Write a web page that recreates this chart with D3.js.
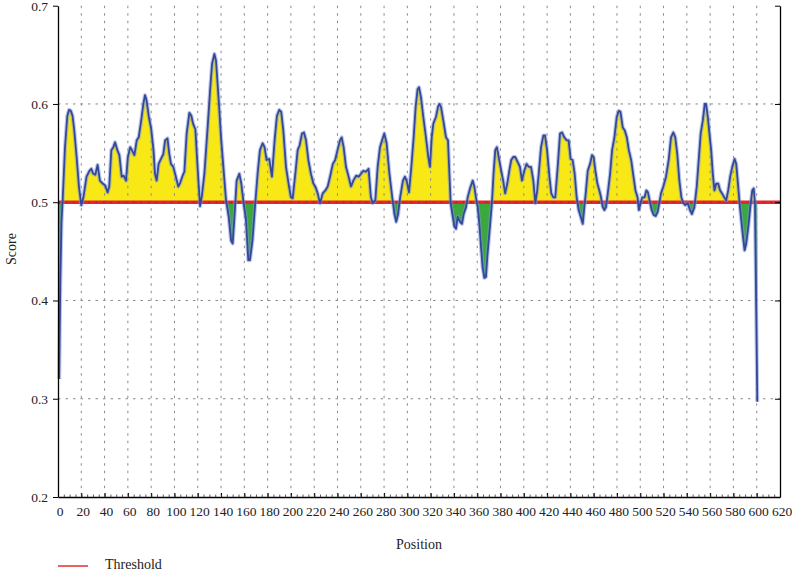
<!DOCTYPE html>
<html>
<head>
<meta charset="utf-8">
<script src="https://cdn.jsdelivr.net/npm/d3@7"></script>
<style>
  body { margin: 0; background: #fff; }
  svg { display: block; font-family: "Liberation Serif", "DejaVu Serif", serif; }
</style>
</head>
<body>
<div id="chart"></div>
<script>
// profile: position along sequence and score
var positions = [1, 2, 3, 4, 6, 8, 9.5, 11, 12.5, 14, 16, 18, 20, 21.8, 24.5, 27, 28.6, 30.3, 32, 34, 36, 38.4, 40.6, 42.6, 44, 45.8, 47.5, 49, 51, 52.7, 54.7, 56.4, 58.4, 60, 62, 63.5, 65.6, 67.6, 69.3, 71.3, 73.3, 74.7, 76, 78, 80, 82, 83.3, 84.7, 86.4, 88.4, 90.4, 92, 94, 95.6, 97, 99, 101, 103.3, 105, 107, 108.5, 110.5, 112.8, 114.5, 116, 118, 120, 122, 123.6, 125.7, 128.6, 130.6, 132.3, 134.3, 135.7, 138, 140, 142, 144.3, 146.6, 148.6, 150, 151.7, 153.4, 155.7, 157.4, 159.4, 161.4, 163.4, 164.8, 167, 169.4, 171.4, 173.4, 175.7, 177.4, 179.1, 181.4, 183.7, 186, 188, 190, 191.7, 193.5, 195.8, 198, 200, 201.5, 203.8, 205.8, 207.5, 209.5, 211.2, 213, 215, 217.2, 219.3, 221, 223, 225, 227.3, 229.6, 231.6, 233.6, 236, 238, 240, 242.2, 243.6, 245.3, 247.3, 249.6, 251.6, 253.6, 256, 258.2, 260.2, 262.2, 264.4, 266.7, 268.7, 270.2, 272.5, 274.5, 276.5, 278.3, 280.2, 282.2, 284.6, 286.6, 288.9, 290.4, 292.1, 293.8, 296.2, 297.9, 299.6, 301.4, 303.4, 305.4, 307.1, 308.8, 310, 311.7, 313.7, 316, 318, 319.4, 320.9, 322.3, 324.6, 326.3, 327.5, 328.9, 330.9, 333.2, 334.9, 336.1, 337.2, 339, 340.4, 341.8, 343.2, 345.2, 346.9, 348.4, 350.4, 351.8, 353.8, 356.1, 357.5, 358.9, 360.4, 361.8, 363.2, 364.6, 366.1, 367.5, 368.9, 370.9, 372.6, 374, 375.5, 376.9, 378.9, 380.6, 382.3, 384, 385.8, 387.5, 389.2, 390.9, 392.7, 394.7, 396.7, 398.4, 400.4, 402.4, 404.2, 406.2, 408.2, 409.9, 411.5, 412.8, 414.8, 416.8, 418.2, 420, 422, 423.6, 425.4, 427, 429.1, 431.1, 432.8, 434.8, 436.8, 438.5, 440.2, 441.9, 443.7, 445.4, 447.1, 448.9, 450.6, 452, 453.4, 454.9, 456.9, 458.6, 460, 461.5, 463.2, 464.9, 466.3, 467.8, 469.2, 470.6, 472.1, 474.1, 475.8, 477.8, 479.8, 481.6, 483, 485, 486.7, 488.5, 490.2, 492.2, 494.2, 495.9, 497.7, 498.8, 500.3, 501.7, 503.7, 505.2, 506.6, 508, 509.8, 511.5, 513.2, 514.9, 516.5, 517.8, 519.8, 522.1, 524.4, 526.4, 528.4, 530.1, 531.8, 533.6, 535.3, 537, 538.7, 540.7, 542.7, 544.4, 546.5, 548.5, 550.2, 551.9, 553.7, 555.4, 556.5, 558, 559.4, 560.9, 562.3, 563.7, 565.2, 566.9, 568.6, 570.3, 572.1, 573.8, 575.5, 577.2, 579, 581, 582.4, 583.9, 585.3, 586.7, 588.2, 589.6, 591, 592.8, 594.5, 596.2, 597.4, 598.5, 600.5];
var scores = [0.32, 0.42, 0.48, 0.502, 0.556, 0.588, 0.594, 0.593, 0.588, 0.573, 0.546, 0.516, 0.497, 0.505, 0.526, 0.532, 0.534, 0.529, 0.528, 0.538, 0.522, 0.519, 0.517, 0.51, 0.516, 0.553, 0.556, 0.561, 0.553, 0.548, 0.526, 0.527, 0.522, 0.546, 0.556, 0.553, 0.548, 0.563, 0.566, 0.582, 0.6, 0.609, 0.604, 0.587, 0.575, 0.553, 0.529, 0.522, 0.539, 0.544, 0.549, 0.563, 0.565, 0.549, 0.539, 0.536, 0.527, 0.516, 0.52, 0.527, 0.531, 0.57, 0.591, 0.588, 0.58, 0.574, 0.533, 0.496, 0.507, 0.529, 0.578, 0.614, 0.641, 0.651, 0.644, 0.604, 0.566, 0.536, 0.502, 0.485, 0.461, 0.458, 0.488, 0.522, 0.529, 0.519, 0.499, 0.482, 0.441, 0.441, 0.461, 0.499, 0.529, 0.553, 0.56, 0.556, 0.543, 0.544, 0.526, 0.563, 0.588, 0.594, 0.592, 0.573, 0.536, 0.519, 0.505, 0.504, 0.529, 0.553, 0.558, 0.57, 0.571, 0.563, 0.543, 0.529, 0.519, 0.516, 0.509, 0.499, 0.509, 0.512, 0.516, 0.526, 0.539, 0.543, 0.553, 0.563, 0.566, 0.556, 0.536, 0.526, 0.516, 0.522, 0.527, 0.526, 0.529, 0.532, 0.531, 0.534, 0.505, 0.499, 0.502, 0.536, 0.556, 0.563, 0.57, 0.56, 0.529, 0.509, 0.488, 0.48, 0.488, 0.505, 0.522, 0.526, 0.521, 0.51, 0.536, 0.566, 0.597, 0.615, 0.617, 0.607, 0.587, 0.566, 0.546, 0.536, 0.566, 0.58, 0.587, 0.597, 0.6, 0.597, 0.583, 0.566, 0.563, 0.529, 0.499, 0.485, 0.475, 0.473, 0.485, 0.48, 0.478, 0.488, 0.495, 0.505, 0.514, 0.522, 0.516, 0.505, 0.495, 0.478, 0.455, 0.434, 0.423, 0.424, 0.448, 0.475, 0.499, 0.529, 0.553, 0.556, 0.543, 0.532, 0.522, 0.509, 0.519, 0.532, 0.543, 0.546, 0.546, 0.541, 0.536, 0.522, 0.532, 0.539, 0.536, 0.536, 0.522, 0.499, 0.512, 0.529, 0.556, 0.568, 0.568, 0.553, 0.526, 0.509, 0.505, 0.505, 0.536, 0.57, 0.571, 0.566, 0.563, 0.563, 0.544, 0.543, 0.529, 0.505, 0.492, 0.485, 0.478, 0.495, 0.512, 0.532, 0.539, 0.548, 0.546, 0.532, 0.519, 0.512, 0.505, 0.495, 0.492, 0.495, 0.509, 0.529, 0.553, 0.566, 0.587, 0.593, 0.592, 0.576, 0.573, 0.566, 0.553, 0.543, 0.526, 0.512, 0.505, 0.492, 0.499, 0.505, 0.505, 0.512, 0.51, 0.502, 0.492, 0.487, 0.486, 0.49, 0.5, 0.509, 0.516, 0.526, 0.543, 0.566, 0.571, 0.566, 0.549, 0.522, 0.505, 0.499, 0.497, 0.499, 0.492, 0.488, 0.495, 0.516, 0.543, 0.57, 0.583, 0.6, 0.6, 0.587, 0.57, 0.553, 0.529, 0.512, 0.519, 0.519, 0.512, 0.509, 0.505, 0.502, 0.512, 0.526, 0.536, 0.544, 0.539, 0.519, 0.499, 0.482, 0.465, 0.451, 0.458, 0.475, 0.495, 0.512, 0.514, 0.499, 0.297];
var threshold = 0.5;
var xTicks = d3.range(0, 621, 20);
var xMinorTicks = d3.range(0, 621, 5);
var yTicks = [0.2, 0.3, 0.4, 0.5, 0.6, 0.7];

var WIDTH = 793, HEIGHT = 573;
var plotL = 58, plotR = 780, plotT = 5.7, plotB = 497;

var data = positions.map(function(p, i) { return { x: p, y: scores[i] }; });

var x = d3.scaleLinear().domain([0, 620]).range([plotL, plotR]);
var y = d3.scaleLinear().domain([0.2, 0.7]).range([plotB, plotT]);

var svg = d3.select('#chart').append('svg')
  .attr('width', WIDTH)
  .attr('height', HEIGHT);

// clip regions above / below the threshold
var defs = svg.append('defs');
defs.append('clipPath').attr('id', 'above')
  .append('rect')
  .attr('x', plotL).attr('y', plotT)
  .attr('width', plotR - plotL).attr('height', y(threshold) - plotT);
defs.append('clipPath').attr('id', 'below')
  .append('rect')
  .attr('x', plotL).attr('y', y(threshold))
  .attr('width', plotR - plotL).attr('height', plotB - y(threshold));

var area = d3.area()
  .x(function(d) { return x(d.x); })
  .y0(y(threshold))
  .y1(function(d) { return y(d.y); });

svg.append('path').datum(data)
  .attr('d', area)
  .attr('fill', '#f7e816')
  .attr('clip-path', 'url(#above)');
svg.append('path').datum(data)
  .attr('d', area)
  .attr('fill', '#3aa83c')
  .attr('clip-path', 'url(#below)');

// dotted grid
svg.append('g').selectAll('line')
  .data(xTicks.filter(function(t) { return t > 0 && t < 620; }))
  .enter().append('line')
  .attr('x1', function(d) { return x(d); })
  .attr('x2', function(d) { return x(d); })
  .attr('y1', plotT).attr('y2', plotB)
  .attr('stroke', '#8a8a8a')
  .attr('stroke-width', 1)
  .attr('stroke-dasharray', '2.5,5');

svg.append('g').selectAll('line')
  .data(yTicks.filter(function(t) { return t > 0.2 && t < 0.7 && t !== threshold; }))
  .enter().append('line')
  .attr('x1', plotL).attr('x2', plotR)
  .attr('y1', function(d) { return y(d); })
  .attr('y2', function(d) { return y(d); })
  .attr('stroke', '#8a8a8a')
  .attr('stroke-width', 1)
  .attr('stroke-dasharray', '2.5,5');

// threshold line
svg.append('line')
  .attr('x1', plotL).attr('x2', plotR)
  .attr('y1', y(threshold)).attr('y2', y(threshold))
  .attr('stroke', '#e6262b')
  .attr('stroke-width', 3.5);
svg.append('line')
  .attr('x1', plotL).attr('x2', plotR)
  .attr('y1', y(threshold)).attr('y2', y(threshold))
  .attr('stroke', '#7a3030')
  .attr('stroke-width', 1)
  .attr('stroke-dasharray', '1.5,6');

// score line with soft halo
var line = d3.line()
  .x(function(d) { return x(d.x); })
  .y(function(d) { return y(d.y); });

svg.append('path').datum(data)
  .attr('d', line)
  .attr('fill', 'none')
  .attr('stroke', '#7f98da')
  .attr('stroke-width', 4)
  .attr('stroke-opacity', 0.55)
  .attr('stroke-linejoin', 'round');
svg.append('path').datum(data)
  .attr('d', line)
  .attr('fill', 'none')
  .attr('stroke', '#34479a')
  .attr('stroke-width', 1.8)
  .attr('stroke-linejoin', 'round');

// axes
var xAxis = svg.append('g')
  .attr('transform', 'translate(0,' + plotB + ')')
  .call(d3.axisBottom(x).tickValues(xTicks).tickSizeInner(-4).tickSizeOuter(0).tickPadding(9));
var xMinor = svg.append('g')
  .attr('transform', 'translate(0,' + plotB + ')')
  .call(d3.axisBottom(x).tickValues(xMinorTicks).tickSizeInner(-2.5).tickSizeOuter(0).tickFormat(''));
xMinor.select('.domain').remove();

svg.append('g')
  .attr('transform', 'translate(' + plotL + ',0)')
  .call(d3.axisLeft(y).tickValues(yTicks).tickFormat(d3.format('.1f')).tickSizeInner(5).tickSizeOuter(0).tickPadding(5));

svg.append('g')
  .attr('transform', 'translate(' + plotR + ',0)')
  .call(d3.axisRight(y).tickValues(yTicks).tickFormat('').tickSizeInner(-5).tickSizeOuter(0));

svg.selectAll('.domain').attr('stroke', '#000').attr('stroke-width', 1.3);
svg.selectAll('.tick line').attr('stroke', '#000');
xMinor.selectAll('.tick line').attr('stroke', '#333').attr('stroke-width', 0.8);
svg.selectAll('.tick text')
  .attr('font-family', '"Liberation Serif", serif')
  .attr('font-size', 13.5)
  .attr('fill', '#222');
xAxis.selectAll('.tick text').attr('dx', 1.5);

// axis titles
svg.append('text')
  .attr('x', (plotL + plotR) / 2)
  .attr('y', 549)
  .attr('text-anchor', 'middle')
  .attr('font-size', 14)
  .attr('fill', '#222')
  .text('Position');

svg.append('text')
  .attr('transform', 'translate(16,' + 249 + ') rotate(-90)')
  .attr('text-anchor', 'middle')
  .attr('font-size', 14)
  .attr('fill', '#222')
  .text('Score');

// legend
svg.append('line')
  .attr('x1', 58).attr('x2', 88)
  .attr('y1', 566).attr('y2', 566)
  .attr('stroke', '#e86464')
  .attr('stroke-width', 2);
svg.append('text')
  .attr('x', 105).attr('y', 569)
  .attr('font-size', 14)
  .attr('fill', '#222')
  .text('Threshold');
</script>
</body>
</html>
